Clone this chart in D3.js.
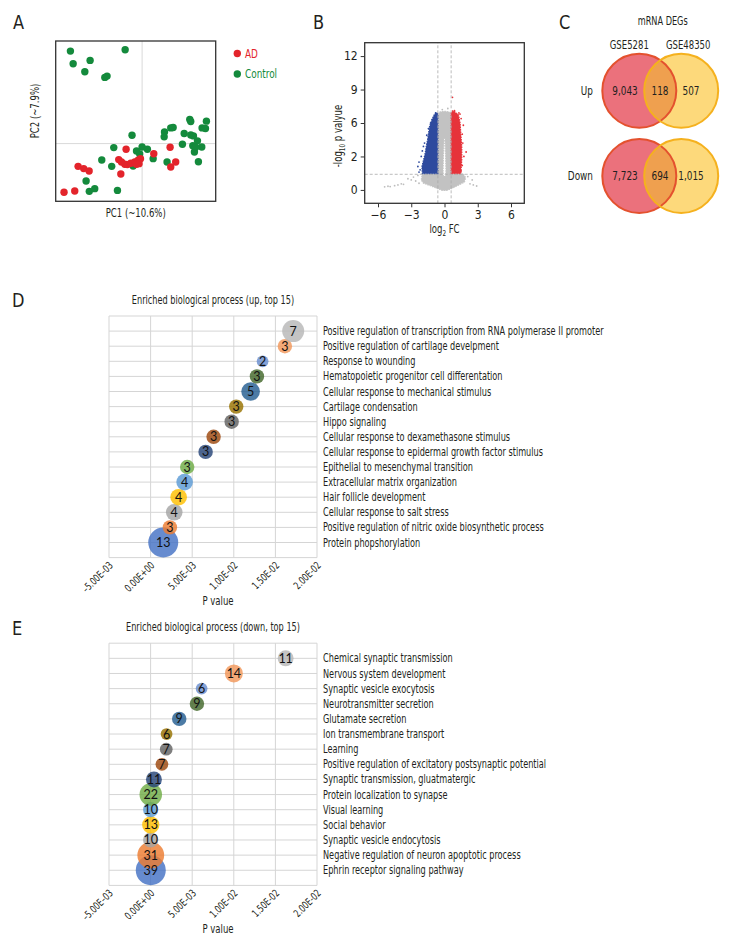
<!DOCTYPE html>
<html><head><meta charset="utf-8">
<script src="https://cdn.jsdelivr.net/npm/d3@7"></script>
<style>
body{margin:0;background:#fff;}
svg text{font-family:"DejaVu Sans Condensed","Liberation Sans Narrow","Arial Narrow",sans-serif;}
</style></head><body>
<svg id="fig" width="756" height="948"></svg>
<script>
// ---------------- DATA ----------------
// Panel A: PCA scores (PC1, PC2)
const pcaGroups = ["AD", "Control"];
const pcaControl = [
  [-44.8,57.7],[-10.6,58.5],[-43.1,49.8],[-32.5,51.9],[-35.8,44.8],[-23.3,41.3],[-21.9,42.1],
  [-6.3,5.2],[-17.7,-2.5],[0,-2.1],[3.3,-3.5],[-3.5,-4.6],[6.9,-9.4],[-25.2,-10.2],[-19,-14.2],
  [-5.6,-14],[-35,-23.3],[-33,-29.8],[-29.6,-28.1],[-15.4,-29.2],[14,7.3],[13.8,4.2],[17.9,9.8],
  [19.4,10],[29.8,15],[30.4,13.8],[40.2,14],[37.5,9.8],[39.6,9.4],[26.3,6.3],[30.4,5.4],[32.1,4.8],
  [34.6,1.7],[25.2,-0.4],[31.7,-1.3],[37.3,-2.1],[32.7,-5.2],[33.5,-2.3],[15.6,-11.5],[35.2,-11.3],
  [-1.5,-6.5]
];
const pcaAD = [
  [-10,-3.5],[17.5,-2.3],[7.3,-6.3],[-14.6,-10],[-12.9,-11.5],[-10.8,-12.9],[-9.2,-13.1],[-7.1,-12.3],
  [-4.6,-11.5],[-2.5,-10.4],[-1,-9.4],[-3.5,-12.9],[-1.9,-12.5],[-40,-14.2],[-36.5,-15.6],[-33.1,-17.1],
  [-13.3,-19],[17.9,-14.6],[21,-11.5],[-48.8,-30.4],[-42.1,-29.6]
];
const pcaXLabel = "PC1 (~10.6%)";
const pcaYLabel = "PC2 (~7.9%)";

// Panel B: volcano plot (log2 FC, -log10 p), dense clouds as outlines + sparse points
const volcanoXTicks = [-6, -3, 0, 3, 6];
const volcanoYTicks = [0, 3, 6, 9, 12];
const volcanoYTickLabels = ["0", "2", "6", "9", "12"];
const fcCut = [-0.6, 0.6];
const pCut = 1.4;
const grayCloud = [[-0.6,6.8],[-0.4,7.0],[0.0,7.05],[0.4,7.0],[0.6,6.85],[0.6,1.45],[1.7,1.45],[1.9,1.1],
  [1.8,0.7],[1.2,0.4],[0.6,0.1],[0.2,-0.05],[-0.2,-0.05],[-0.6,0.1],[-1.2,0.35],[-1.9,0.6],[-2.1,0.9],
  [-2.0,1.45],[-0.6,1.45]];
const grayGap = [[-0.04,4.6],[0.04,4.6],[0.1,3.0],[0.13,1.7],[0.1,1.25],[-0.1,1.25],[-0.13,1.7],[-0.1,3.0]];
const blueCloud = [[-0.6,1.45],[-2.0,1.45],[-2.04,2.09],[-1.89,2.69],[-1.74,3.29],[-1.65,3.89],[-1.53,4.49],
  [-1.44,5.09],[-1.35,5.69],[-1.14,6.29],[-0.93,6.74],[-0.75,6.95],[-0.6,6.8]];
const redCloud = [[0.6,1.45],[0.6,6.9],[0.75,7.1],[0.87,7.04],[1.26,6.74],[1.41,5.99],[1.47,5.09],
  [1.56,3.89],[1.56,2.69],[1.47,1.45]];
const grayScatter = [[-5.4,0.28],[-5.1,0.33],[-4.9,0.3],[-4.5,0.38],[-4.2,0.45],[-3.9,0.55],[-3.7,0.5],
  [-3.3,1.0],[-3.0,0.9],[-2.8,1.15],[-2.6,0.8],[-2.4,1.3],[-2.3,0.6],[2.3,0.55],[2.6,0.45],[2.9,0.35],
  [2.5,0.9],[2.1,1.2],[-0.2,7.2],[0.3,7.3]];
const blueScatter = [[-2.4,2.1],[-2.3,2.5],[-2.2,1.8],[-2.1,3.0],[-2.0,3.5],[-1.9,3.9],[-1.8,4.2],
  [-1.6,4.9],[-1.45,5.5],[-1.25,6.0],[-1.1,6.3],[-0.9,6.6],[-0.8,6.9],[-2.3,1.6]];
const redScatter = [[0.72,8.3],[0.9,7.1],[1.3,6.9],[1.5,6.4],[1.7,5.8],[1.6,5.0],[1.65,4.2],[1.95,3.4],
  [1.75,3.0],[1.6,2.2],[1.5,1.7],[1.4,6.8]];

// Panel C: Venn counts [only left, overlap, only right]
const vennTitle = "mRNA DEGs";
const vennSets = ["GSE5281", "GSE48350"];
const vennRows = ["Up", "Down"];
const vennUp = [9043, 118, 507];
const vennDown = [7723, 694, 1015];

// Panels D/E: enrichment bubble charts (listed top to bottom)
const pTicks = [-0.005, 0, 0.005, 0.01, 0.015, 0.02];
const pTickLabels = ["\u20135.00E\u201303", "0.00E+00", "5.00E\u201303", "1.00E\u201302", "1.50E-02", "2.00E-02"];
const upTerms = [
  "Positive regulation of transcription from RNA polymerase II promoter",
  "Positive regulation of cartilage develpment",
  "Response to wounding",
  "Hematopoietic progenitor cell differentation",
  "Cellular response to mechanical stimulus",
  "Cartilage condensation",
  "Hippo signaling",
  "Cellular response to dexamethasone stimulus",
  "Cellular response to epidermal growth factor stimulus",
  "Epithelial to mesenchymal transition",
  "Extracellular matrix organization",
  "Hair follicle development",
  "Cellular response to salt stress",
  "Positive regulation of nitric oxide biosynthetic process",
  "Protein phopshorylation"
];
const upP = [0.01714, 0.01614, 0.01346, 0.01278, 0.01202, 0.01029, 0.00974, 0.00757, 0.00661,
  0.0044, 0.00409, 0.00337, 0.00284, 0.00232, 0.00152];
const upCounts = [7, 3, 2, 3, 5, 3, 3, 3, 3, 3, 4, 4, 4, 3, 13];

const downTerms = [
  "Chemical synaptic transmission",
  "Nervous system development",
  "Synaptic vesicle exocytosis",
  "Neurotransmitter secretion",
  "Glutamate secretion",
  "Ion transmembrane transport",
  "Learning",
  "Positive regulation of excitatory postsynaptic potential",
  "Synaptic transmission, gluatmatergic",
  "Protein localization to synapse",
  "Visual learning",
  "Social behavior",
  "Synaptic vesicle endocytosis",
  "Negative regulation of neuron apoptotic process",
  "Ephrin receptor signaling pathway"
];
const downP = [0.01623, 0.01001, 0.00613, 0.00557, 0.00344, 0.00192, 0.00188, 0.00136, 0.0004,
  0.00002, 0.00001, 0.00002, 0.00001, 0.00002, 0.00002];
const downCounts = [11, 14, 6, 9, 9, 6, 7, 7, 11, 22, 10, 13, 10, 31, 39];

// ---------------- DRAWING ----------------
const svg = d3.select("#fig");
const TXT = "#231f20";
const SX = 0.79; // horizontal condensing to mimic a condensed face

// condensed text helper: returns the text selection
function ctext(parent, x, y, str, o = {}) {
  const rot = o.rotate ? ` rotate(${o.rotate})` : "";
  const g = parent.append("g").attr("transform", `translate(${x},${y})${rot} scale(${o.sx ?? SX},1)`);
  const t = g.append("text").attr("x", 0).attr("y", 0)
    .attr("dy", o.dy ?? "0.35em")
    .attr("text-anchor", o.anchor || "start")
    .attr("font-size", o.size || 11.5)
    .attr("fill", o.fill || TXT);
  if (str !== null) t.text(str);
  return t;
}

// panel letters
const letters = [["A",13,22],["B",313,22],["C",559,22],["D",12,300],["E",12,628]];
letters.forEach(d => ctext(svg, d[1], d[2], d[0], {size: 20, sx: 0.9}));

// ===== Panel A =====
(function(){
  const g = svg.append("g");
  const x = d3.scaleLinear().domain([-54,46]).range([55.7,215.7]);
  const y = d3.scaleLinear().domain([-36,64]).range([201.3,41]);
  g.append("line").attr("x1",x(0)).attr("x2",x(0)).attr("y1",y(-36)).attr("y2",y(64)).attr("stroke","#cfcfcf").attr("stroke-width",0.8);
  g.append("line").attr("x1",x(-54)).attr("x2",x(46)).attr("y1",y(0)).attr("y2",y(0)).attr("stroke","#cfcfcf").attr("stroke-width",0.8);
  const cols = {AD:"#e3242b", Control:"#148a3c"};
  g.selectAll("circle.c").data(pcaControl).join("circle").attr("class","c")
    .attr("cx",d=>x(d[0])).attr("cy",d=>y(d[1])).attr("r",3.7).attr("fill",cols.Control);
  g.selectAll("circle.a").data(pcaAD).join("circle").attr("class","a")
    .attr("cx",d=>x(d[0])).attr("cy",d=>y(d[1])).attr("r",3.7).attr("fill",cols.AD);
  g.append("rect").attr("x",55.7).attr("y",41).attr("width",160).attr("height",160.3)
    .attr("fill","none").attr("stroke","#333").attr("stroke-width",1.3);
  pcaGroups.forEach((k,i)=>{
    g.append("circle").attr("cx",237.3).attr("cy",53.5+i*20.5).attr("r",3.7).attr("fill",cols[k]);
    ctext(g, 245, 53.5+i*20.5, k, {size: 12.5, fill: cols[k]});
  });
  ctext(g, 135.7, 213, pcaXLabel, {anchor: "middle", size: 12});
  ctext(g, 35, 111, pcaYLabel, {anchor: "middle", size: 12, rotate: -90});
})();

// ===== Panel B =====
(function(){
  const g = svg.append("g");
  const x = d3.scaleLinear().domain([-7.2,7.2]).range([364.7,524.3]);
  const y = d3.scaleLinear().domain([-1.2,13.2]).range([203.3,42.7]);
  const line = d3.line().x(d=>x(d[0])).y(d=>y(d[1])).curve(d3.curveLinearClosed);
  g.append("path").attr("d", line(grayCloud) + line(grayGap)).attr("fill-rule","evenodd")
    .attr("fill","#c2c2c2").attr("stroke","#c6c6c6").attr("stroke-width",1.2).attr("stroke-dasharray","1.5,1");
  g.selectAll("circle.g").data(grayScatter).join("circle").attr("class","g")
    .attr("cx",d=>x(d[0])).attr("cy",d=>y(d[1])).attr("r",0.9).attr("fill","#bdbdbd");
  g.append("path").attr("d", line(blueCloud)).attr("fill","#2e4a9e")
    .attr("stroke","#2e4a9e").attr("stroke-width",1.2).attr("stroke-dasharray","1.5,1");
  g.selectAll("circle.b").data(blueScatter).join("circle").attr("class","b")
    .attr("cx",d=>x(d[0])).attr("cy",d=>y(d[1])).attr("r",0.9).attr("fill","#2e4a9e");
  g.append("path").attr("d", line(redCloud)).attr("fill","#e6333a")
    .attr("stroke","#e6333a").attr("stroke-width",1.2).attr("stroke-dasharray","1.5,1");
  g.selectAll("circle.r").data(redScatter).join("circle").attr("class","r")
    .attr("cx",d=>x(d[0])).attr("cy",d=>y(d[1])).attr("r",0.9).attr("fill","#e6333a");
  fcCut.forEach(v=>g.append("line").attr("x1",x(v)).attr("x2",x(v)).attr("y1",y(-1.2)).attr("y2",y(13.2))
    .attr("stroke","#aaa").attr("stroke-width",0.8).attr("stroke-dasharray","3,2"));
  g.append("line").attr("x1",x(-7.2)).attr("x2",x(7.2)).attr("y1",y(pCut)).attr("y2",y(pCut))
    .attr("stroke","#aaa").attr("stroke-width",0.8).attr("stroke-dasharray","3,2");
  g.append("rect").attr("x",364.7).attr("y",42.7).attr("width",159.6).attr("height",160.6)
    .attr("fill","none").attr("stroke","#333").attr("stroke-width",1.3);
  const ax = g.append("g").attr("transform","translate(0,203.3)")
    .call(d3.axisBottom(x).tickValues(volcanoXTicks).tickSize(4).tickPadding(3).tickFormat(d=>d<0?"\u2212"+Math.abs(d):d));
  const ay = g.append("g").attr("transform","translate(364.7,0)")
    .call(d3.axisLeft(y).tickValues(volcanoYTicks).tickSize(4).tickPadding(3).tickFormat((d,i)=>volcanoYTickLabels[i]));
  [ax,ay].forEach(a=>{a.select(".domain").remove();
    a.selectAll("text").attr("font-size",12).attr("fill",TXT).attr("font-family",null);
    a.selectAll("line").attr("stroke","#333");});
  const xl = ctext(g, 444.5, 229, null, {anchor: "middle", size: 12, dy: "0.3em"});
  xl.append("tspan").text("log");
  xl.append("tspan").text("2").attr("font-size",8).attr("dy",3);
  xl.append("tspan").text(" FC").attr("dy",-3);
  const yl = ctext(g, 338, 136, null, {anchor: "middle", size: 12, rotate: -90, dy: "0.3em"});
  yl.append("tspan").text("-log");
  yl.append("tspan").text("10").attr("font-size",8).attr("dy",3);
  yl.append("tspan").text(" p valyue").attr("dy",-3);
})();

// ===== Panel C =====
(function(){
  const g = svg.append("g");
  const fmt = d3.format(",");
  const r = 37, cxL = 639.3, cxR = 681.2;
  const rows = [[vennUp, 90.7], [vennDown, 176]];
  ctext(g, 662.7, 21, vennTitle, {anchor: "middle", size: 11.5});
  [cxL-10, cxR+7].forEach((cx,i)=>ctext(g, cx, 45, vennSets[i], {anchor: "middle", size: 12}));
  rows.forEach((row,ri)=>{
    const [vals, cy] = row;
    const id = "clipL"+ri;
    g.append("clipPath").attr("id",id).append("circle").attr("cx",cxL).attr("cy",cy).attr("r",r);
    g.append("circle").attr("cx",cxL).attr("cy",cy).attr("r",r).attr("fill","#eb717c");
    g.append("circle").attr("cx",cxR).attr("cy",cy).attr("r",r).attr("fill","#fdd97b");
    g.append("circle").attr("cx",cxR).attr("cy",cy).attr("r",r).attr("fill","#efa04f").attr("clip-path",`url(#${id})`);
    g.append("circle").attr("cx",cxL).attr("cy",cy).attr("r",r).attr("fill","none").attr("stroke","#e4512e").attr("stroke-width",2);
    g.append("circle").attr("cx",cxR).attr("cy",cy).attr("r",r).attr("fill","none").attr("stroke","#f5b11e").attr("stroke-width",2);
    [625, 660, 691].forEach((tx,k)=>ctext(g, tx, cy, fmt(vals[k]), {anchor: "middle", size: 12.5}));
    ctext(g, 593, cy, vennRows[ri], {anchor: "end", size: 12.5});
  });
})();

// ===== Panels D / E =====
const palette = ["#4472C4","#ED7D31","#A5A5A5","#FFC000","#5B9BD5","#70AD47","#264478","#9E480E",
  "#636363","#997300","#255E91","#43682B","#698ED0","#F1975A","#B7B7B7"];
function bubbleChart(top, bottom, title, terms, pv, counts){
  const g = svg.append("g");
  const x = d3.scaleLinear().domain([-0.005,0.02]).range([109,317]);
  const y = d3.scaleLinear().domain([0,16]).range([bottom,top]);
  const r = d3.scaleSqrt().domain([0,d3.max(counts)]).range([0,15]);
  const grid = "#d5d5d5";
  g.selectAll("line.h").data(d3.range(0,17)).join("line").attr("class","h")
    .attr("x1",x(-0.005)).attr("x2",x(0.02)).attr("y1",d=>y(d)).attr("y2",d=>y(d)).attr("stroke",grid).attr("stroke-width",1);
  g.selectAll("line.v").data(pTicks).join("line").attr("class","v")
    .attr("x1",d=>x(d)).attr("x2",d=>x(d)).attr("y1",y(0)).attr("y2",y(16)).attr("stroke",grid).attr("stroke-width",1);
  const n = terms.length;
  const data = terms.map((t,i)=>({t, p:pv[i], c:counts[i], yv:n-i, col:palette[n-1-i]}));
  const ord = data.slice().reverse();
  g.selectAll("circle.b").data(ord).join("circle").attr("class","b")
    .attr("cx",d=>x(d.p)).attr("cy",d=>y(d.yv)).attr("r",d=>r(d.c)).attr("fill",d=>d.col).attr("fill-opacity",0.82);
  g.selectAll("text.n").data(ord).join("text").attr("class","n")
    .attr("x",d=>x(d.p)).attr("y",d=>y(d.yv)).attr("dy","0.36em").attr("text-anchor","middle")
    .attr("font-size",12.5).attr("fill","#111").style("font-family","Lato, 'Liberation Sans', sans-serif").text(d=>d.c);
  data.forEach(d => ctext(g, 323, y(d.yv), d.t, {size: 11.5}));
  pTicks.forEach((d,i) => ctext(g, x(d)+2, bottom+6, pTickLabels[i], {anchor: "end", size: 10.5, rotate: -45}));
  ctext(g, 218, bottom+43, "P value", {anchor: "middle", size: 12});
  ctext(g, 213, top-16, title, {anchor: "middle", size: 11.5});
}
bubbleChart(316, 557.6, "Enriched biological process (up, top 15)", upTerms, upP, upCounts);
bubbleChart(643.2, 885.4, "Enriched biological process (down, top 15)", downTerms, downP, downCounts);
</script>
</body></html>
